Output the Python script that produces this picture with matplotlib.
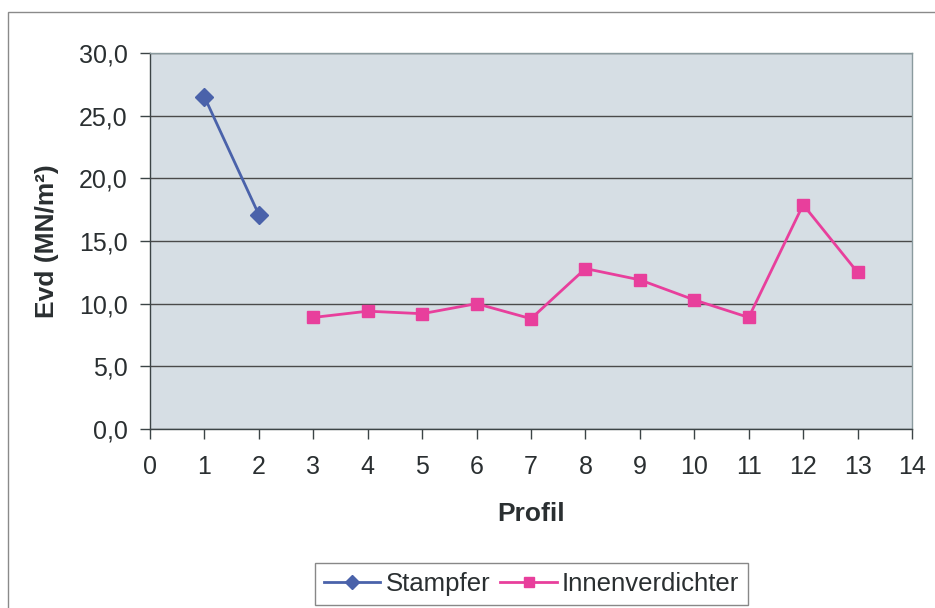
import matplotlib
matplotlib.use("Agg")
import matplotlib.pyplot as plt
from matplotlib.patches import Rectangle
from matplotlib.ticker import FuncFormatter

# Evd measurements per profile
stampfer_profile = [1, 2]
stampfer_evd = [26.5, 17.1]

innen_profile = [3, 4, 5, 6, 7, 8, 9, 10, 11, 12, 13]
innen_evd = [8.9, 9.4, 9.2, 10.0, 8.8, 12.8, 11.9, 10.3, 8.9, 17.9, 12.5]

x_ticks = list(range(0, 15))
y_ticks = [0, 5, 10, 15, 20, 25, 30]

plt.rcParams["font.family"] = ["Liberation Sans", "DejaVu Sans"]
text_color = "#2a2f31"

fig = plt.figure(figsize=(9.35, 6.08), dpi=100)
fig.patch.set_facecolor("white")

# outer chart frame
fig.patches.append(Rectangle((8 / 935, -0.05), 1.1, 1 - 12 / 608 + 0.05,
                             transform=fig.transFigure, fill=False,
                             edgecolor="#8a8a8a", linewidth=1.0))

ax = fig.add_axes([150 / 935, 1 - 429 / 608, (912 - 150) / 935, (429 - 53) / 608])
ax.set_facecolor("#d6dee4")

ax.plot(stampfer_profile, stampfer_evd, color="#4a62aa", linewidth=2.0,
        marker="D", markersize=9, markeredgecolor="#4a62aa", label="Stampfer", zorder=3)
ax.plot(innen_profile, innen_evd, color="#e83f9c", linewidth=2.0,
        marker="s", markersize=9, markeredgecolor="#e83f9c", label="Innenverdichter", zorder=3)

ax.set_xlim(0, 14)
ax.set_ylim(0, 30)
ax.set_xticks(x_ticks)
ax.set_yticks(y_ticks)
ax.yaxis.set_major_formatter(FuncFormatter(lambda v, p: f"{v:.1f}".replace(".", ",")))

ax.grid(axis="y", color="#4a4a4a", linewidth=1.0)
ax.set_axisbelow(True)

for side in ("left", "bottom"):
    ax.spines[side].set_color("#3c4446")
    ax.spines[side].set_linewidth(1.0)
for side in ("top", "right"):
    ax.spines[side].set_color("#8a9a9e")
    ax.spines[side].set_linewidth(1.0)

ax.tick_params(axis="both", direction="out", length=7, width=1.0,
               color="#3c4446", labelsize=18, labelcolor=text_color)
ax.tick_params(axis="x", pad=12)
ax.tick_params(axis="y", pad=9)

ax.set_xlabel("Profil", fontsize=19, fontweight="bold", color=text_color, labelpad=16)
ax.set_ylabel("Evd (MN/m²)", fontsize=19, fontweight="bold", color=text_color, labelpad=14)

leg = ax.legend(loc="center", bbox_to_anchor=(0.5007, -0.412), ncol=2,
                frameon=True, fancybox=False, edgecolor="#6a6a6a",
                fontsize=18.5, handlelength=2.2, handletextpad=0.2,
                columnspacing=0.4, borderpad=0.35, borderaxespad=0,
                markerscale=0.75)
leg.get_frame().set_linewidth(1.0)
for t in leg.get_texts():
    t.set_color(text_color)

fig.savefig("out.png", dpi=100, facecolor="white")
